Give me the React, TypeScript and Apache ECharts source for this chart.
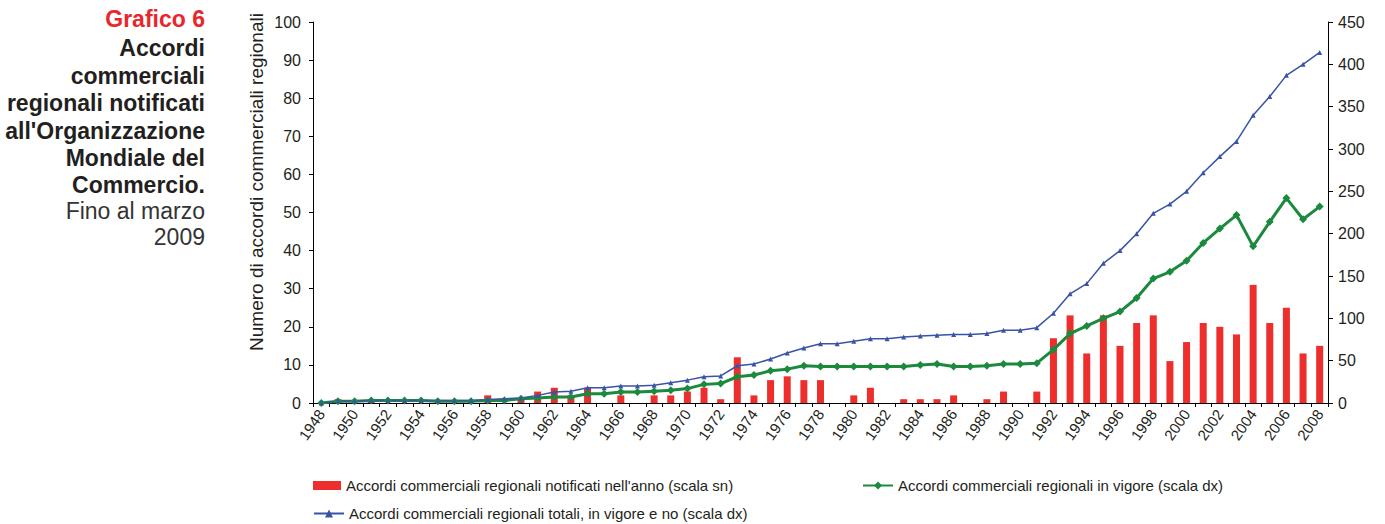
import React, { useEffect, useRef } from "react";
import * as echarts from "echarts";

const years: string[] = [];
for (let y = 1948; y <= 2008; y++) years.push(String(y));

const notifiedPerYear = [
  0, 1, 0, 1, 0, 0, 0, 0, 0, 0,
  2, 0, 1, 3, 4, 2, 4, 0, 2, 0,
  2, 2, 3, 4, 1, 12, 2, 6, 7, 6,
  6, 0, 2, 4, 0, 1, 1, 1, 2, 0,
  1, 3, 0, 3, 17, 23, 13, 23, 15, 21,
  23, 11, 16, 21, 20, 18, 31, 21, 25, 13,
  15,
];

const inForce = [
  0, 2, 2, 3, 3, 3, 3, 2, 2, 2,
  3, 3, 5, 6, 7, 7, 11, 11, 13, 13,
  14, 15, 17, 22, 23, 31, 33, 38, 40, 44,
  43, 43, 43, 43, 43, 43, 45, 46, 43, 43,
  44, 46, 46, 47, 63, 82, 91, 100, 108, 124,
  147, 155, 168, 189, 206, 222, 185, 214, 242, 217,
  232,
];

const totals = [
  0, 2, 2, 3, 3, 3, 3, 3, 3, 3,
  4, 5, 6, 9, 13, 14, 18, 18, 20, 20,
  21, 24, 27, 31, 32, 44, 46, 52, 59, 65,
  70, 70, 73, 76, 76, 78, 79, 80, 81, 81,
  82, 86, 86, 89, 106, 129, 141, 165, 180, 200,
  224, 235, 250, 272, 291, 309, 340, 362, 387, 400,
  414,
];

const nameBar = "Accordi commerciali regionali notificati nell'anno (scala sn)";
const nameInForce = "Accordi commerciali regionali in vigore (scala dx)";
const nameTotals = "Accordi commerciali regionali totali, in vigore e no (scala dx)";

const titleLines: { text: string; color: string; weight: string }[] = [
  { text: "Grafico 6", color: "#E8262B", weight: "bold" },
  { text: "Accordi", color: "#231F20", weight: "bold" },
  { text: "commerciali", color: "#231F20", weight: "bold" },
  { text: "regionali notificati", color: "#231F20", weight: "bold" },
  { text: "all'Organizzazione", color: "#231F20", weight: "bold" },
  { text: "Mondiale del", color: "#231F20", weight: "bold" },
  { text: "Commercio.", color: "#231F20", weight: "bold" },
  { text: "Fino al marzo", color: "#333333", weight: "normal" },
  { text: "2009", color: "#333333", weight: "normal" },
];
const titleY = [19, 48, 76, 103, 131, 158, 185, 211, 237];

const FONT = "'Liberation Sans', Arial, Helvetica, sans-serif";
const TXT = "#231F20";

export default function App() {
  const ref = useRef<HTMLDivElement>(null);
  useEffect(() => {
    if (!ref.current) return;
    const chart = echarts.init(ref.current, undefined, { renderer: "svg" });
    const graphics: any[] = titleLines.map((l, i) => ({
      type: "text",
      x: 205,
      y: titleY[i],
      style: {
        text: l.text,
        fill: l.color,
        font: `${l.weight} 23px ${FONT}`,
        textAlign: "right",
        textVerticalAlign: "middle",
      },
    }));
    graphics.push({
      type: "text",
      x: 256,
      y: 182,
      rotation: Math.PI / 2,
      style: {
        text: "Numero di accordi commerciali regionali",
        fill: TXT,
        font: `normal 19px ${FONT}`,
        textAlign: "center",
        textVerticalAlign: "middle",
      },
    });
    const legendCommon = {
      orient: "horizontal",
      padding: 0,
      itemWidth: 30,
      itemHeight: 10,
      itemGap: 5,
      textStyle: { color: TXT, fontSize: 15, fontFamily: FONT },
    };
    chart.setOption({
      animation: false,
      textStyle: { fontFamily: FONT },
      graphic: graphics,
      legend: [
        { ...legendCommon, data: [{ name: nameBar, icon: "rect" }], left: 313, top: 478, itemWidth: 28, itemHeight: 9 },
        { ...legendCommon, data: [nameInForce], left: 862, top: 478 },
        { ...legendCommon, data: [nameTotals], left: 313, top: 506 },
      ],
      grid: { left: 313, right: 57, top: 22, bottom: 121, containLabel: false },
      xAxis: {
        type: "category",
        data: years,
        boundaryGap: true,
        axisLine: { lineStyle: { color: "#000", width: 1 } },
        axisTick: { show: true, interval: 0, length: 4, lineStyle: { color: "#000" } },
        axisLabel: { interval: 1, rotate: 55, fontSize: 15, color: TXT, fontFamily: FONT, margin: 8 },
        splitLine: { show: false },
      },
      yAxis: [
        {
          type: "value",
          min: 0,
          max: 100,
          interval: 10,
          position: "left",
          axisLine: { show: true, lineStyle: { color: "#000", width: 1 } },
          axisTick: { show: true, length: 4, lineStyle: { color: "#000" } },
          axisLabel: { fontSize: 16, color: TXT, fontFamily: FONT, margin: 12 },
          splitLine: { show: false },
        },
        {
          type: "value",
          min: 0,
          max: 450,
          interval: 50,
          position: "right",
          axisLine: { show: true, lineStyle: { color: "#000", width: 1 } },
          axisTick: { show: true, length: 5, lineStyle: { color: "#000" } },
          axisLabel: { fontSize: 16, color: TXT, fontFamily: FONT, margin: 10 },
          splitLine: { show: false },
        },
      ],
      series: [
        {
          name: nameBar,
          type: "bar",
          data: notifiedPerYear,
          yAxisIndex: 0,
          barWidth: 7,
          itemStyle: { color: "#EE2E2C" },
        },
        {
          name: nameInForce,
          type: "line",
          data: inForce,
          yAxisIndex: 1,
          symbol: "diamond",
          symbolSize: 8,
          lineStyle: { color: "#1B8A3E", width: 3 },
          itemStyle: { color: "#1B8A3E" },
        },
        {
          name: nameTotals,
          type: "line",
          data: totals,
          yAxisIndex: 1,
          symbol: "triangle",
          symbolSize: 5,
          lineStyle: { color: "#3953A6", width: 1.5 },
          itemStyle: { color: "#3953A6" },
        },
      ],
    });
    return () => chart.dispose();
  }, []);
  return (
    <div
      ref={ref}
      style={{ position: "fixed", left: 0, top: 0, width: 1385, height: 524, background: "#fff" }}
    />
  );
}
